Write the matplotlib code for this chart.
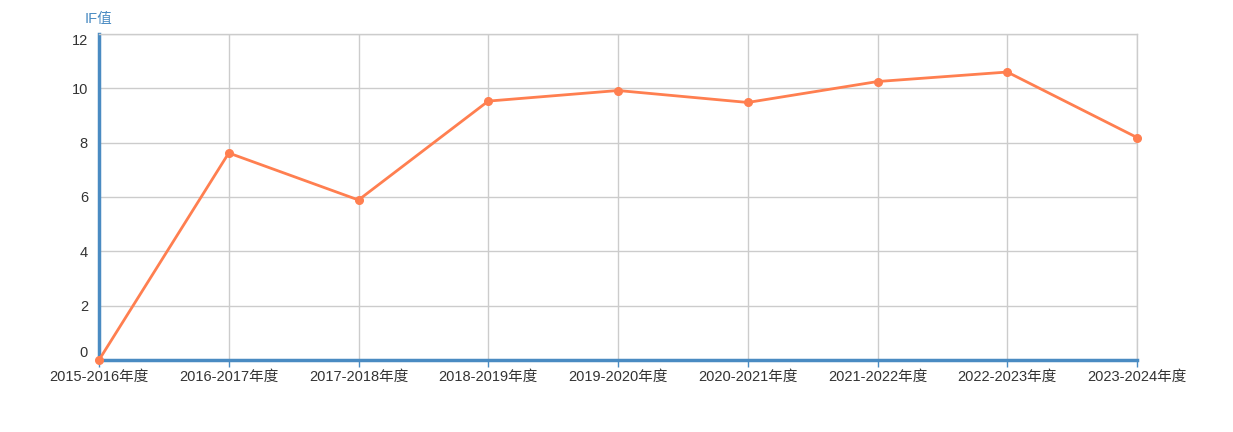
import matplotlib
matplotlib.use('Agg')
import matplotlib.pyplot as plt

plt.rcParams['font.family'] = ['Liberation Sans', 'Noto Sans CJK SC', 'DejaVu Sans']

years = ['2015-2016年度', '2016-2017年度', '2017-2018年度', '2018-2019年度',
         '2019-2020年度', '2020-2021年度', '2021-2022年度', '2022-2023年度',
         '2023-2024年度']
if_values = [0, 7.62, 5.89, 9.53, 9.92, 9.48, 10.25, 10.6, 8.19]
y_ticks = [0, 2, 4, 6, 8, 10, 12]

blue = '#4a8bc2'
orange = '#ff7f50'

fig = plt.figure(figsize=(12.33, 4.32), dpi=100)
ax = fig.add_axes([99/1233, 1 - 360/432, (1137 - 99)/1233, (360 - 34)/432])

x = list(range(len(years)))
ax.plot(x, if_values, color=orange, lw=2, marker='o', ms=5.5, zorder=3, clip_on=False)

ax.set_xlim(0, len(years) - 1)
ax.set_ylim(0, 12)
ax.set_xticks(x)
ax.set_xticklabels(years, fontsize=10.5, color='#333333')
ax.set_yticks(y_ticks)
ax.set_yticklabels([str(v) for v in y_ticks], fontsize=10.5, color='#333333')
# first and last y labels are pushed inside the axis range
ylabels = ax.get_yticklabels()
ylabels[0].set_va('bottom')
ylabels[-1].set_va('top')
ax.grid(True, color='#cccccc', lw=1)
ax.set_axisbelow(True)

for s in ['top', 'right']:
    ax.spines[s].set_color('#cccccc')
    ax.spines[s].set_linewidth(1)
for s in ['left', 'bottom']:
    ax.spines[s].set_color(blue)
    ax.spines[s].set_linewidth(2.5)

ax.tick_params(axis='x', length=5, color=blue, width=1, pad=2)
ax.tick_params(axis='y', length=0, pad=8)

fig.text(85/1233, 1 - 19/432, 'IF值', color=blue, fontsize=10.5, va='center', ha='left')

fig.savefig('out.png', dpi=100)
